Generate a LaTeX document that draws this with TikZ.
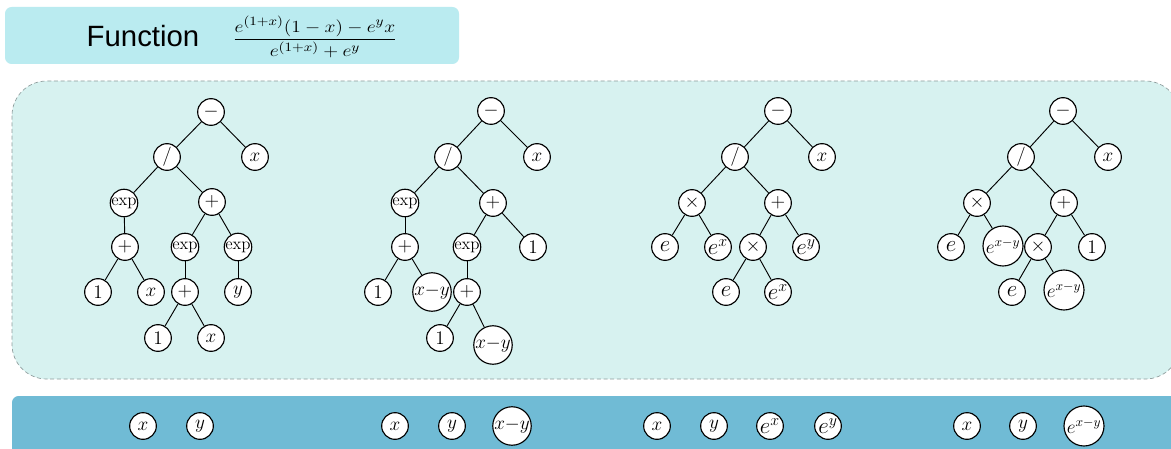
\documentclass[tikz,border=0pt]{standalone}
\usepackage{amsmath}
\usepackage{fontspec}
\newfontfamily\hdrfont{Liberation Sans}
\definecolor{hdrfill}{HTML}{BAEBF0}
\definecolor{mainfill}{HTML}{D7F2F0}
\definecolor{mainedge}{HTML}{8E9C9C}
\definecolor{botfill}{HTML}{70BBD5}
\tikzset{
  x=0.75pt, y=-0.75pt,
  tn/.style={circle, draw, fill=white, line width=0.85pt, inner sep=0pt,
             minimum size=20pt, font=\fontsize{14}{16}\selectfont},
  tnx/.style={tn, font=\fontsize{12.7}{15}\selectfont},
  tne/.style={tn, font=\fontsize{17}{19}\selectfont},
  tnb/.style={tn, minimum size=27.5pt},
  tnc/.style={tn, minimum size=30pt, font=\fontsize{14.5}{17}\selectfont},
  ed/.style={line width=0.7pt},
}
\begin{document}
\begin{tikzpicture}
\useasboundingbox (0,0) rectangle (1171,449);
\clip (0,0) rectangle (1171,449);

% panels
\fill[hdrfill, rounded corners=5pt] (5,7) rectangle (459,64);
\draw[mainedge, fill=mainfill, dashed, dash pattern=on 3pt off 2pt, line width=0.5pt,
      rounded corners=26pt] (12,81) rectangle (1180,379);
\fill[botfill, rounded corners=5pt] (12,396) rectangle (1190,470);

% header
\node[font=\hdrfont\fontsize{22}{26}\selectfont] (title) at (143,36) {Function};
\node[font=\fontsize{13}{16}\selectfont] (formula) at (315,37)
  {\scalebox{1.22}[1.06]{$\dfrac{e^{(1+x)}(1-x)-e^{y}x}{e^{(1+x)}+e^{y}}$}};

% tree 1
\node[tn] (a0) at (211,112) {$-$};
\node[tn] (a1) at (167,157) {$/$};
\node[tn] (a2) at (255,157) {$x$};
\node[tnx] (a3) at (124,203) {$\exp$};
\node[tn] (a4) at (212,202) {$+$};
\node[tn] (a5) at (125,247) {$+$};
\node[tnx] (a6) at (185,247) {$\exp$};
\node[tnx] (a7) at (238,247) {$\exp$};
\node[tn] (a8) at (98,292) {$1$};
\node[tn] (a9) at (151,292) {$x$};
\node[tn] (a10) at (185,292) {$+$};
\node[tn] (a11) at (238,292) {$y$};
\node[tn] (a12) at (158,338) {$1$};
\node[tn] (a13) at (211,338) {$x$};
\foreach \p/\c in {a0/a1,a0/a2,a1/a3,a1/a4,a3/a5,a4/a6,a4/a7,a5/a8,a5/a9,a6/a10,a7/a11,a10/a12,a10/a13}
  \draw[ed] (\p) -- (\c);

% tree 2
\node[tn] (b0) at (491,111) {$-$};
\node[tn] (b1) at (448,157) {$/$};
\node[tn] (b2) at (537,157) {$x$};
\node[tnx] (b3) at (405,203) {$\exp$};
\node[tn] (b4) at (493,203) {$+$};
\node[tn] (b5) at (405,247) {$+$};
\node[tnx] (b6) at (467,247) {$\exp$};
\node[tn] (b7) at (533,247) {$1$};
\node[tn] (b8) at (378,292) {$1$};
\node[tnb] (b9) at (432,292) {$x{-}y$};
\node[tn] (b10) at (467,292) {$+$};
\node[tn] (b11) at (440,338) {$1$};
\node[tnb] (b12) at (493,345) {$x{-}y$};
\foreach \p/\c in {b0/b1,b0/b2,b1/b3,b1/b4,b3/b5,b4/b6,b4/b7,b5/b8,b5/b9,b6/b10,b10/b11,b10/b12}
  \draw[ed] (\p) -- (\c);

% tree 3
\node[tn] (c0) at (778,111) {$-$};
\node[tn] (c1) at (735,157) {$/$};
\node[tn] (c2) at (822,157) {$x$};
\node[tn] (c3) at (692,203) {$\times$};
\node[tn] (c4) at (778,203) {$+$};
\node[tne] (c5) at (665,247) {$e$};
\node[tne] (c6) at (718,247) {$e^{x}$};
\node[tn] (c7) at (753,247) {$\times$};
\node[tne] (c8) at (806,247) {$e^{y}$};
\node[tne] (c9) at (726,292) {$e$};
\node[tne] (c10) at (778,292) {$e^{x}$};
\foreach \p/\c in {c0/c1,c0/c2,c1/c3,c1/c4,c3/c5,c3/c6,c4/c7,c4/c8,c7/c9,c7/c10}
  \draw[ed] (\p) -- (\c);

% tree 4
\node[tn] (d0) at (1063,111) {$-$};
\node[tn] (d1) at (1021,157) {$/$};
\node[tn] (d2) at (1108,157) {$x$};
\node[tn] (d3) at (977,203) {$\times$};
\node[tn] (d4) at (1064,203) {$+$};
\node[tne] (d5) at (951,247) {$e$};
\node[tnc] (d6) at (1003,246) {$e^{x-y}$};
\node[tn] (d7) at (1038,247) {$\times$};
\node[tn] (d8) at (1092,247) {$1$};
\node[tne] (d9) at (1012,292) {$e$};
\node[tnc] (d10) at (1064,290) {$e^{x-y}$};
\foreach \p/\c in {d0/d1,d0/d2,d1/d3,d1/d4,d3/d5,d3/d6,d4/d7,d4/d8,d7/d9,d7/d10}
  \draw[ed] (\p) -- (\c);

% terminal sets
\node[tn] (s1) at (143,426) {$x$};
\node[tn] (s2) at (200,426) {$y$};
\node[tn] (s3) at (395,426) {$x$};
\node[tn] (s4) at (452,426) {$y$};
\node[tnb] (s5) at (512,426) {$x{-}y$};
\node[tn] (s6) at (657,426) {$x$};
\node[tn] (s7) at (714,426) {$y$};
\node[tne] (s8) at (770,426) {$e^{x}$};
\node[tne] (s9) at (828,426) {$e^{y}$};
\node[tn] (s10) at (967,426) {$x$};
\node[tn] (s11) at (1023,426) {$y$};
\node[tnc] (s12) at (1084,426) {$e^{x-y}$};
\end{tikzpicture}
\end{document}
